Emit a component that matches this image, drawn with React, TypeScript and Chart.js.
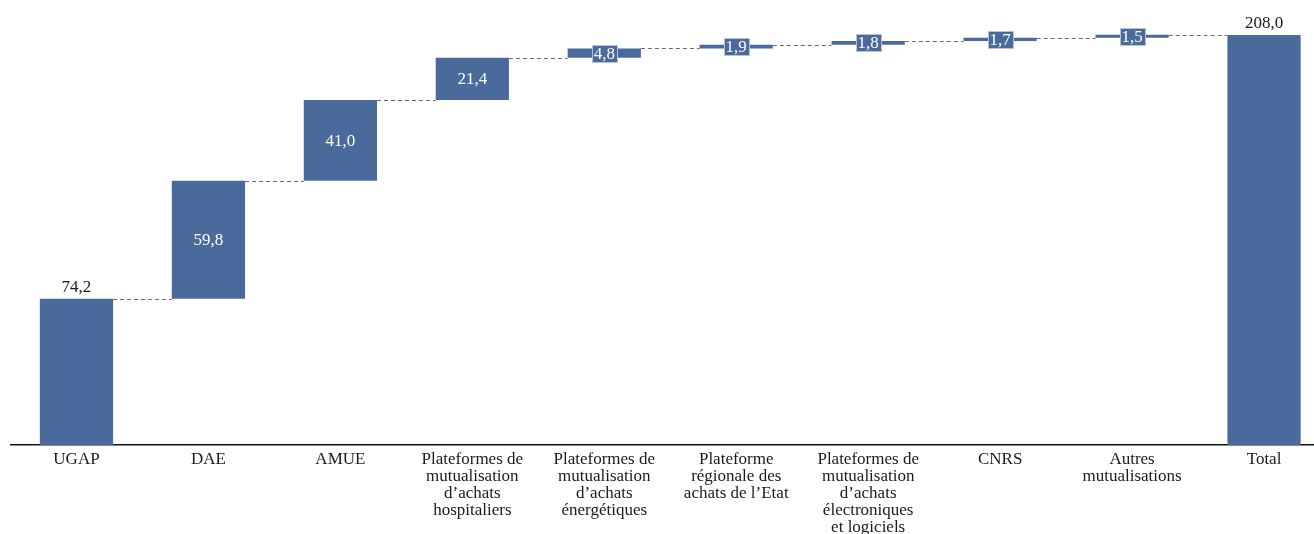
import React, { useEffect, useRef } from "react";
import { Chart, registerables } from "chart.js";

Chart.register(...registerables);

const categories: (string | string[])[] = [
  "UGAP",
  "DAE",
  "AMUE",
  ["Plateformes de", "mutualisation", "d’achats", "hospitaliers"],
  ["Plateformes de", "mutualisation", "d’achats", "énergétiques"],
  ["Plateforme", "régionale des", "achats de l’Etat"],
  ["Plateformes de", "mutualisation", "d’achats", "électroniques", "et logiciels"],
  "CNRS",
  ["Autres", "mutualisations"],
  "Total",
];

const values: number[] = [74.2, 59.8, 41.0, 21.4, 4.8, 1.9, 1.8, 1.7, 1.5, 208.0];
const isTotal: boolean[] = [false, false, false, false, false, false, false, false, false, true];

const Y_MAX = 225.75;
const BAR_COLOR = "#4a6a9b";
const FONT = "'Liberation Serif', 'Times New Roman', serif";

function buildRanges(): { ranges: [number, number][]; ends: number[] } {
  const ranges: [number, number][] = [];
  const ends: number[] = [];
  let cum = 0;
  values.forEach((v, i) => {
    if (isTotal[i]) {
      ranges.push([0, v]);
      ends.push(v);
      cum = v;
    } else {
      ranges.push([cum, cum + v]);
      cum += v;
      ends.push(cum);
    }
  });
  return { ranges, ends };
}

const fmt = (v: number) => v.toFixed(1).replace(".", ",");

export default function App() {
  const ref = useRef<HTMLCanvasElement | null>(null);

  useEffect(() => {
    if (!ref.current) return;
    const { ranges, ends } = buildRanges();

    const connectors = {
      id: "connectors",
      beforeDatasetsDraw(chart: any) {
        const ctx = chart.ctx;
        const meta = chart.getDatasetMeta(0);
        const ys = chart.scales.y;
        ctx.save();
        ctx.strokeStyle = "#6b6b6b";
        ctx.lineWidth = 1;
        ctx.setLineDash([4, 3]);
        for (let i = 0; i < meta.data.length - 1; i++) {
          const a = meta.data[i].getProps(["x", "width"], true);
          const b = meta.data[i + 1].getProps(["x", "width"], true);
          const y = Math.round(ys.getPixelForValue(ends[i])) + 0.5;
          ctx.beginPath();
          ctx.moveTo(a.x + a.width / 2, y);
          ctx.lineTo(b.x - b.width / 2, y);
          ctx.stroke();
        }
        ctx.restore();
      },
    };

    const labels = {
      id: "wfLabels",
      afterDatasetsDraw(chart: any) {
        const ctx = chart.ctx;
        const meta = chart.getDatasetMeta(0);
        ctx.save();
        meta.data.forEach((bar: any, i: number) => {
          const p = bar.getProps(["x", "y", "base"], true);
          const top = Math.min(p.y, p.base);
          const bottom = Math.max(p.y, p.base);
          const txt = fmt(values[i]);
          ctx.font = `17px ${FONT}`;
          if (i === 0 || isTotal[i]) {
            ctx.fillStyle = "#1a1a1a";
            ctx.textAlign = "center";
            ctx.textBaseline = "bottom";
            ctx.fillText(txt, p.x, top - 3);
          } else {
            const cy = (top + bottom) / 2;
            const w = Math.round(ctx.measureText(txt).width + 4);
            const h = 17;
            if (bottom - top < h) {
              const bx = Math.round(p.x - w / 2);
              const by = Math.round(cy - h / 2);
              ctx.fillStyle = BAR_COLOR;
              ctx.fillRect(bx, by, w, h);
              ctx.strokeStyle = "#b8c2d2";
              ctx.lineWidth = 1;
              ctx.strokeRect(bx + 0.5, by + 0.5, w, h);
            }
            ctx.fillStyle = "#ffffff";
            ctx.textAlign = "center";
            ctx.textBaseline = "middle";
            ctx.fillText(txt, p.x, cy + 1);
          }
        });
        ctx.restore();
      },
    };

    const chart = new Chart(ref.current, {
      type: "bar",
      data: {
        labels: categories,
        datasets: [
          {
            data: ranges as any,
            backgroundColor: BAR_COLOR,
            borderWidth: 0,
            borderSkipped: false,
            categoryPercentage: 1,
            barPercentage: 0.555,
          },
        ],
      },
      options: {
        animation: false,
        responsive: true,
        maintainAspectRatio: false,
        layout: { padding: { left: 10.5, right: 0, top: 0, bottom: 0 } },
        plugins: {
          legend: { display: false },
          tooltip: { enabled: false },
        },
        scales: {
          x: {
            grid: { display: false, drawTicks: false },
            border: { display: true, color: "#111111", width: 1.5 },
            ticks: {
              color: "#1a1a1a",
              font: { family: FONT, size: 17, lineHeight: 1.0 },
              padding: 6,
              maxRotation: 0,
              minRotation: 0,
              autoSkip: false,
            },
            afterFit(scale: any) {
              scale.height = 89;
            },
          },
          y: {
            display: false,
            min: 0,
            max: Y_MAX,
          },
        },
      },
      plugins: [connectors, labels],
    });
    return () => chart.destroy();
  }, []);

  return (
    <div style={{ position: "fixed", left: 0, top: 0, width: 1314, height: 534, overflow: "hidden", background: "#fff" }}>
      <div style={{ position: "absolute", left: 0, top: 0, width: 1330, height: 534 }}>
        <canvas ref={ref} />
      </div>
    </div>
  );
}
